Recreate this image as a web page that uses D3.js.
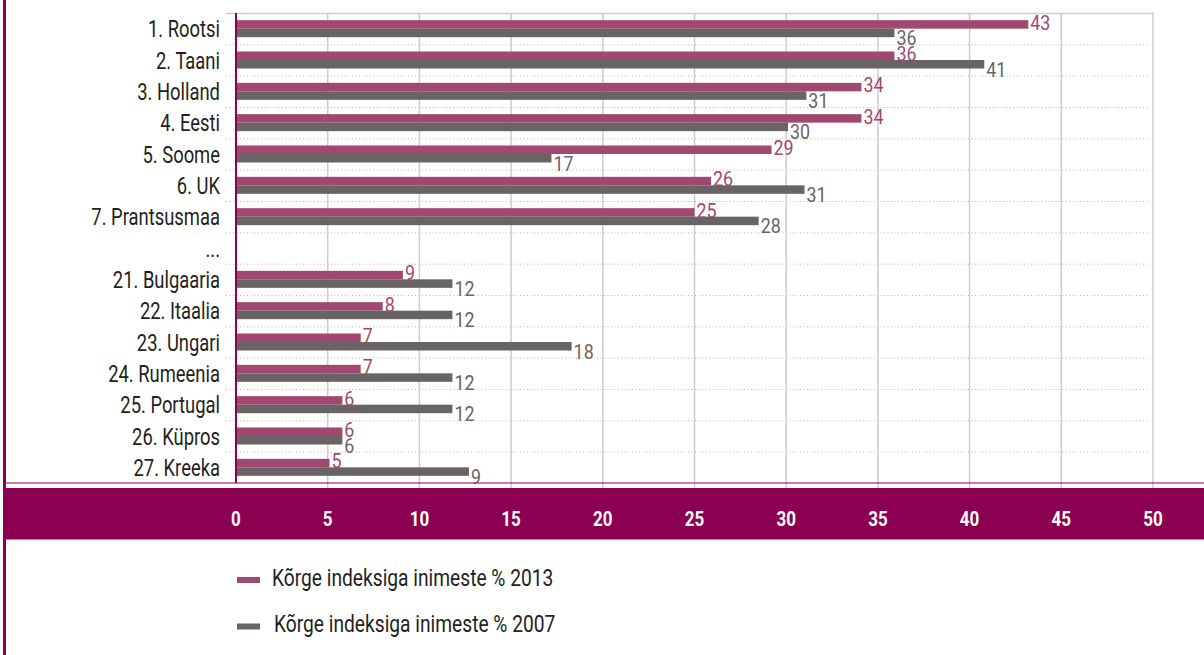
<!DOCTYPE html>
<html>
<head>
<meta charset="utf-8">
<script src="https://cdn.jsdelivr.net/npm/d3@7"></script>
<style>
  body { margin: 0; background: #fff; }
  svg text { font-family: Roboto, "DejaVu Sans Condensed", sans-serif; }
</style>
</head>
<body>
<div id="chart"></div>
<script>
// riigid, järjestatud 2013 järgi
var countries = ["1. Rootsi", "2. Taani", "3. Holland", "4. Eesti", "5. Soome", "6. UK", "7. Prantsusmaa", "...",
    "21. Bulgaaria", "22. Itaalia", "23. Ungari", "24. Rumeenia", "25. Portugal", "26. Küpros", "27. Kreeka"];
// tulpade pikkused (loetud pildilt)
var v2013 = [43.2, 35.9, 34.1, 34.1, 29.2, 25.9, 25.0, null, 9.1, 8.0, 6.8, 6.8, 5.8, 5.8, 5.1];
var v2007 = [35.9, 40.8, 31.1, 30.1, 17.2, 31.0, 28.5, null, 11.8, 11.8, 18.3, 11.8, 11.8, 5.8, 12.7];
// tulpade juures olevad sildid
var lab2013 = ["43", "36", "34", "34", "29", "26", "25", "", "9", "8", "7", "7", "6", "6", "5"];
var lab2007 = ["36", "41", "31", "30", "17", "31", "28", "", "12", "12", "18", "12", "12", "6", "9"];
var ticks = [0, 5, 10, 15, 20, 25, 30, 35, 40, 45, 50];
var legendNames = ["Kõrge indeksiga inimeste % 2013", "Kõrge indeksiga inimeste % 2007"];

var W = 1204, H = 655;
var MAGENTA = "#8b0050", C2013 = "#a0486f", C2007 = "#686464";

var svg = d3.select("#chart").append("svg")
    .attr("width", W).attr("height", H);

var x = d3.scaleLinear().domain([0, 50]).range([236, 1153]);
var y = d3.scaleBand().domain(countries).range([13, 483]);
var bh = 8.5;

// kitsas kiri: nihe + horisontaalne kokkusurumine
function at(px, py, sq) {
    return "translate(" + px + "," + py + ") scale(" + (sq || 0.8) + ",1)";
}

// vasak ääris
svg.append("line")
    .attr("x1", 4.5).attr("x2", 4.5).attr("y1", 0).attr("y2", H)
    .attr("stroke", MAGENTA).attr("stroke-width", 3);

// punktiirjooned ridade vahel
svg.selectAll(".dot")
    .data(countries.slice(1))
    .join("line")
    .attr("x1", 226).attr("x2", 1150)
    .attr("y1", d => y(d) + 0.5).attr("y2", d => y(d) + 0.5)
    .attr("stroke", "#b5b5b5").attr("stroke-width", 1)
    .attr("stroke-dasharray", "1,2.5");

// vertikaalsed ruudujooned
svg.selectAll(".grid")
    .data(ticks.slice(1))
    .join("line")
    .attr("x1", d => x(d)).attr("x2", d => x(d))
    .attr("y1", 13).attr("y2", 488)
    .attr("stroke", "#cccccc").attr("stroke-width", 1.5);

// ülemine joon
svg.append("line")
    .attr("x1", 226).attr("x2", 1153.75).attr("y1", 13.5).attr("y2", 13.5)
    .attr("stroke", "#cccccc").attr("stroke-width", 1.5);

svg.append("line")
    .attr("x1", 6).attr("x2", W).attr("y1", 483).attr("y2", 483)
    .attr("stroke", MAGENTA).attr("stroke-width", 1.2);

var rows = countries.map((c, i) => ({c: c, a: v2013[i], b: v2007[i], la: lab2013[i], lb: lab2007[i]}))
    .filter(d => d.a != null);

svg.selectAll(".b13")
    .data(rows)
    .join("rect")
    .attr("x", x(0))
    .attr("y", d => y(d.c) + y.bandwidth() / 2 - bh)
    .attr("width", d => x(d.a) - x(0))
    .attr("height", bh)
    .attr("fill", C2013);

svg.selectAll(".b07")
    .data(rows)
    .join("rect")
    .attr("x", x(0))
    .attr("y", d => y(d.c) + y.bandwidth() / 2)
    .attr("width", d => x(d.b) - x(0))
    .attr("height", bh)
    .attr("fill", C2007);

svg.append("line")
    .attr("x1", x(0)).attr("x2", x(0)).attr("y1", 13).attr("y2", 483)
    .attr("stroke", MAGENTA).attr("stroke-width", 2);

svg.selectAll(".l13")
    .data(rows)
    .join("text")
    .attr("transform", d => at(x(d.a) + 2, y(d.c) + y.bandwidth() / 2 + 1, 0.85))
    .attr("font-size", 21)
    .attr("fill", C2013)
    .text(d => d.la);

svg.selectAll(".l07")
    .data(rows)
    .join("text")
    .attr("transform", d => at(x(d.b) + 2, y(d.c) + y.bandwidth() / 2 + 16.5, 0.85))
    .attr("font-size", 21)
    .attr("fill", C2007)
    .text(d => d.lb);

// kategooriad
svg.selectAll(".cat")
    .data(countries)
    .join("text")
    .attr("transform", d => at(220, y(d) + y.bandwidth() / 2 + 8.5))
    .attr("text-anchor", "end")
    .attr("font-size", 23)
    .attr("fill", "#231f20")
    .text(d => d);

// x-telje riba
svg.append("rect")
    .attr("x", 6).attr("y", 488).attr("width", W - 6).attr("height", 51.5)
    .attr("fill", MAGENTA);

svg.selectAll(".tick")
    .data(ticks)
    .join("text")
    .attr("transform", d => at(x(d), 525.5, 0.85))
    .attr("text-anchor", "middle")
    .attr("font-size", 20)
    .attr("font-weight", "bold")
    .attr("fill", "#fff")
    .text(d => d);

// legend
var leg = svg.selectAll(".leg")
    .data(legendNames)
    .join("g")
    .attr("transform", (d, i) => "translate(237," + (577 + i * 46.5) + ")");
leg.append("rect")
    .attr("width", 23).attr("height", 6)
    .attr("fill", (d, i) => i == 0 ? C2013 : C2007);
leg.append("text")
    .attr("transform", (d, i) => at(i == 0 ? 35 : 37, 8.5, 0.835))
    .attr("font-size", 23)
    .attr("fill", "#231f20")
    .text(d => d);
</script>
</body>
</html>
